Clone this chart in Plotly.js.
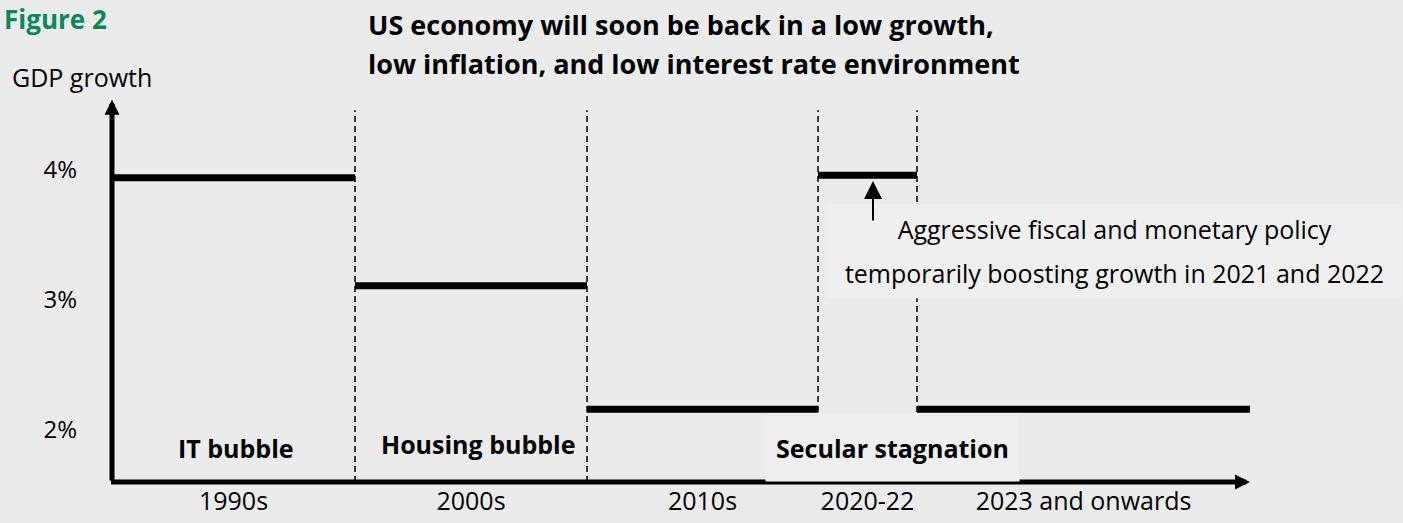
<!DOCTYPE html>
<html><head><meta charset="utf-8">
<script src="https://cdn.plot.ly/plotly-3.0.1.min.js"></script>
<style>html,body{margin:0;padding:0;background:#ebebeb;}#chart{width:1403px;height:523px;}</style>
</head><body><div id="chart"></div>
<script>
// ---- data ----
const periods = ['1990s', '2000s', '2010s', '2020-22', '2023 and onwards'];
const boundaries = [0, 2.43, 4.75, 7.06, 8.05, 11.38];
const growth = [3.94, 3.11, 2.16, 3.96, 2.16];
const tickVals = [2, 3, 4];
const tickText = ['2%', '3%', '4%'];
const eraLabels = ['IT bubble', 'Housing bubble', 'Secular stagnation'];
const policyNote = ['Aggressive fiscal and monetary policy', 'temporarily boosting growth in 2021 and 2022'];
const titleLines = ['US economy will soon be back in a low growth,', 'low inflation, and low interest rate environment'];

// ---- build ----
const FONT = '"Open Sans", sans-serif';
const axisFloor = 1.6, axisTop = 4.54, dashTop = 4.46;
const segX = [], segY = [];
periods.forEach((p, i) => {
  segX.push(boundaries[i], boundaries[i + 1], null);
  segY.push(growth[i], growth[i], null);
});
const mids = periods.map((p, i) => (boundaries[i] + boundaries[i + 1]) / 2);

const traces = [{
  type: 'scatter', mode: 'lines', x: segX, y: segY,
  line: {color: '#000', width: 7}, hoverinfo: 'skip', showlegend: false, cliponaxis: false
}];

const shapes = boundaries.slice(1, 5).map(b => ({
  type: 'line', xref: 'x', yref: 'y', x0: b, x1: b, y0: axisFloor, y1: dashTop,
  line: {color: '#000', width: 1.5, dash: '6px,4px'}, layer: 'below'
}));

const boxFill = '#efefef';
const annotations = [
  // y axis arrow
  {xref: 'x', yref: 'y', axref: 'x', ayref: 'y', x: 0, y: axisTop, ax: 0, ay: axisFloor,
   text: '', showarrow: true, arrowhead: 2, arrowsize: 0.6, arrowwidth: 5, arrowcolor: '#000'},
  // x axis arrow
  {xref: 'x', yref: 'y', axref: 'x', ayref: 'y', x: boundaries[5], y: axisFloor, ax: -0.025, ay: axisFloor,
   text: '', showarrow: true, arrowhead: 2, arrowsize: 0.6, arrowwidth: 5, arrowcolor: '#000'},
  // era labels
  {xref: 'x', yref: 'y', x: 1.24, y: 1.862, text: '<b>' + eraLabels[0] + '</b>', showarrow: false,
   font: {family: FONT, size: 25, color: '#000'}},
  {xref: 'x', yref: 'y', x: 3.66, y: 1.89, text: '<b>' + eraLabels[1] + '</b>', showarrow: false,
   font: {family: FONT, size: 25, color: '#000'}},
  {xref: 'x', yref: 'y', x: 7.805, y: 1.865, text: '<b>' + eraLabels[2] + '</b>', showarrow: false,
   bgcolor: boxFill, width: 251, height: 65, font: {family: FONT, size: 25, color: '#000'}},
  // policy note
  {xref: 'x', yref: 'y', x: 10.025, y: 3.377, showarrow: false, bgcolor: boxFill, width: 571, height: 92,
   text: policyNote.map(t => '<span style="font-size:25px">' + t + '</span>').join('<br>'),
   font: {family: FONT, size: 34, color: '#000'}},
  // small arrow to 2020-22 bar
  {xref: 'x', yref: 'y', axref: 'x', ayref: 'y', x: 7.61, y: growth[3] - 0.045, ax: 7.61, ay: 3.6,
   text: '', showarrow: true, arrowhead: 2, arrowsize: 1.8, arrowwidth: 2, arrowcolor: '#000'},
  // Figure 2
  {xref: 'paper', yref: 'paper', x: -0.0772, y: 1.18, xanchor: 'left', yanchor: 'middle', showarrow: false,
   text: '<b>Figure 2</b>', font: {family: FONT, size: 26, color: '#0b875b'}},
  // GDP growth
  {xref: 'paper', yref: 'paper', x: -0.0703, y: 1.033, xanchor: 'left', yanchor: 'middle', showarrow: false,
   text: 'GDP growth', font: {family: FONT, size: 25, color: '#000'}}
];

const layout = {
  width: 1403, height: 523,
  paper_bgcolor: '#ebebeb', plot_bgcolor: '#ebebeb',
  margin: {l: 92, r: 145, t: 90, b: 39},
  showlegend: false,
  title: {
    text: titleLines.map(t => '<span style="font-size:27px"><b>' + t + '</b></span>').join('<br>'),
    font: {family: FONT, size: 30, color: '#000'},
    xref: 'container', yref: 'container', x: 368 / 1403, xanchor: 'left', y: 1, yanchor: 'top',
    pad: {t: 35}
  },
  xaxis: {
    range: [-0.2, 11.46], showgrid: false, zeroline: false, showline: false, ticks: '',
    tickmode: 'array', tickvals: mids, ticktext: periods, ticklabelstandoff: 0,
    tickfont: {family: FONT, size: 25, color: '#000'}, fixedrange: true
  },
  yaxis: {
    range: [1.5846, 4.6154], showgrid: false, zeroline: false, showline: false, ticks: '',
    tickmode: 'array', tickvals: tickVals, ticktext: tickText, ticklabelstandoff: 14,
    tickfont: {family: FONT, size: 24, color: '#000'}, fixedrange: true
  },
  shapes: shapes,
  annotations: annotations
};

Plotly.newPlot('chart', traces, layout, {displayModeBar: false, staticPlot: true});
</script>
</body></html>
